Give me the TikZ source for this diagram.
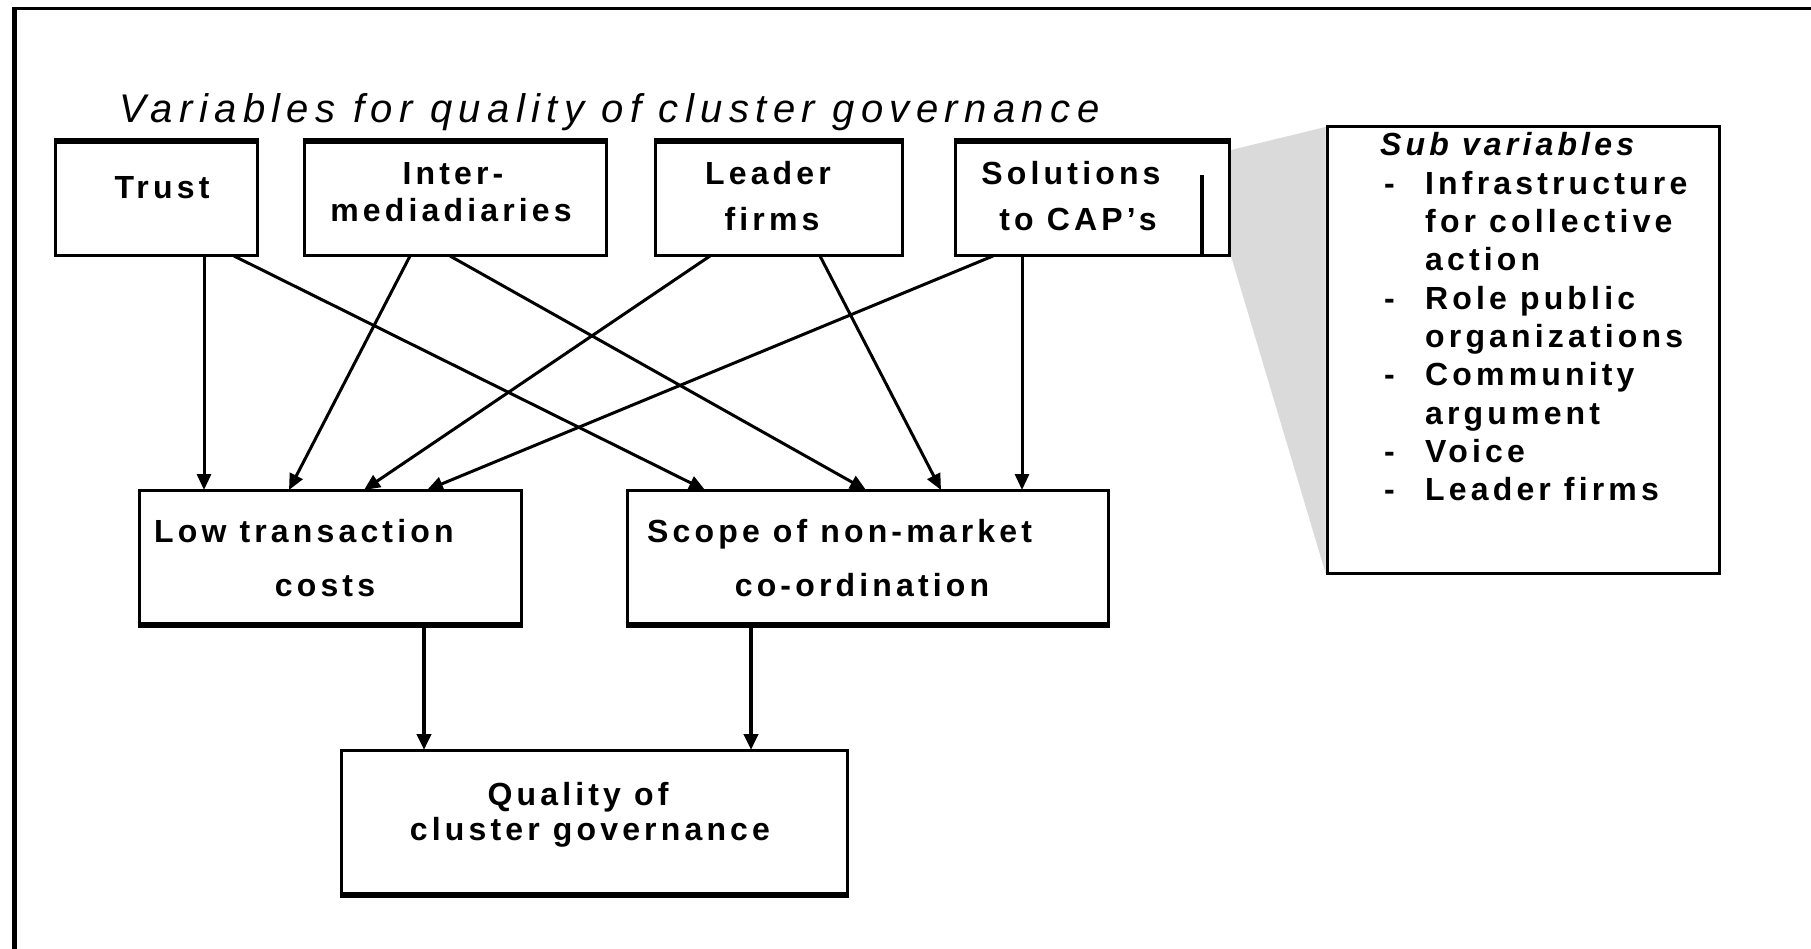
\documentclass[tikz,border=0pt]{standalone}
\usepackage{fontspec}
\setmainfont{Liberation Sans}
\newfontfamily\boxfont{Liberation Sans}[LetterSpace=13]
\newfontfamily\titlefont{Liberation Sans}[LetterSpace=16]
\usetikzlibrary{arrows.meta,calc}
\definecolor{linkgrey}{HTML}{DADADA}
\tikzset{
  box/.style={draw, line width=3pt, rectangle, inner sep=0pt, outer sep=0pt, fill=white},
  lbl/.style={font=\boxfont\bfseries\fontsize{32}{38}\selectfont, inner sep=0pt, anchor=base},
  arr/.style={line width=3pt, -{Triangle[length=16pt,width=14pt]}},
  thickedge/.style={line width=6pt},
}
\begin{document}
\begin{tikzpicture}[x=1pt,y=-1pt]
\useasboundingbox (0,0) rectangle (1811,949);
% frame
\draw[line width=5pt] (14.5,949) -- (14.5,6.8);
\draw[line width=3.5pt] (12,8.5) -- (1811,8.5);

% title
\node[anchor=base west, inner sep=0pt, font=\titlefont\itshape\fontsize{40}{46}\selectfont] (title) at (119,123) {Variables for quality of cluster governance};

% top row boxes
\node[box, minimum width=202pt, minimum height=115pt] (trust) at (156,198.5) {};
\node[box, minimum width=302pt, minimum height=115pt] (inter) at (455,198.5) {};
\node[box, minimum width=247pt, minimum height=115pt] (leader) at (778.5,198.5) {};
\node[box, minimum width=274pt, minimum height=115pt] (sol) at (1092,198.5) {};

% sub variables box and grey link
\node[box, minimum width=392pt, minimum height=446pt] (sub) at (1523,350) {};
\fill[linkgrey] ([xshift=2pt,yshift=-9pt]sol.north east) -- ([xshift=-1.5pt]sub.north west) -- ([xshift=-1.5pt]sub.south west) -- ([xshift=2pt]sol.south east) -- cycle;

\foreach \b in {trust,inter,leader,sol}
  \draw[thickedge] ([xshift=-1.5pt]\b.north west) -- ([xshift=1.5pt]\b.north east);
\draw[line width=4pt] ([xshift=-27pt]sol.south east) -- ++(0,-81);

% middle and bottom boxes
\node[box, minimum width=382pt, minimum height=135pt] (low) at (330,557.5) {};
\node[box, minimum width=481pt, minimum height=135pt] (scope) at (867.5,557.5) {};
\node[box, minimum width=506pt, minimum height=145pt] (qual) at (594,822.5) {};
\foreach \b in {low,scope,qual}
  \draw[thickedge] ([xshift=-1.5pt]\b.south west) -- ([xshift=1.5pt]\b.south east);

% labels
\node[lbl] (ttrust) at (162,199) {Trust};
\node[lbl] (tinter1) at (453,185) {Inter-};
\node[lbl] (tinter2) at (451,222) {mediadiaries};
\node[lbl] (tleader1) at (768,185) {Leader};
\node[lbl] (tleader2) at (772,231) {firms};
\node[lbl] (tsol1) at (1071,185) {Solutions};
\node[lbl] (tsol2) at (1078,231) {to CAP’s};
\node[lbl, anchor=base west] (tlow1) at (154,542) {Low transaction};
\node[lbl] (tlow2) at (325,596) {costs};
\node[lbl, anchor=base west] (tscope1) at (647,542) {Scope of non-market};
\node[lbl] (tscope2) at (862,596) {co-ordination};
\node[lbl] (tqual1) at (578,805) {Quality of};
\node[lbl] (tqual2) at (590,840) {cluster governance};

% sub variables list
\node[lbl, anchor=base west, font=\boxfont\bfseries\itshape\fontsize{32}{38}\selectfont] (subhead) at (1380,156) {Sub variables};
\foreach \t [count=\i] in {Infrastructure, for collective, action, Role public, organizations, Community, argument, Voice, Leader firms}
  \node[lbl, anchor=base west] (s\i) at (1425,{156+38.3*\i}) {\t};
\foreach \i in {1,4,6,8,9}
  \node[lbl, anchor=base west] (d\i) at (1384,{156+38.3*\i}) {-};

% arrows
\draw[arr] ([xshift=149pt]trust.south west) -- ([xshift=65pt]low.north west);
\draw[arr] ([xshift=179pt]trust.south west) -- ([xshift=78pt]scope.north west);
\draw[arr] ([xshift=106pt]inter.south west) -- ([xshift=150pt]low.north west);
\draw[arr] ([xshift=146pt]inter.south west) -- ([xshift=239pt]scope.north west);
\draw[arr] ([xshift=55pt]leader.south west) -- ([xshift=225pt]low.north west);
\draw[arr] ([xshift=165pt]leader.south west) -- ([xshift=314pt]scope.north west);
\draw[arr] ([xshift=38pt]sol.south west) -- ([xshift=288pt]low.north west);
\draw[arr] ([xshift=67pt]sol.south west) -- ([xshift=395pt]scope.north west);
\draw[arr, line width=4pt] ([xshift=285pt,yshift=-3pt]low.south west) -- ([xshift=83pt]qual.north west);
\draw[arr, line width=4pt] ([xshift=124pt,yshift=-3pt]scope.south west) -- ([xshift=410pt]qual.north west);
\end{tikzpicture}
\end{document}
